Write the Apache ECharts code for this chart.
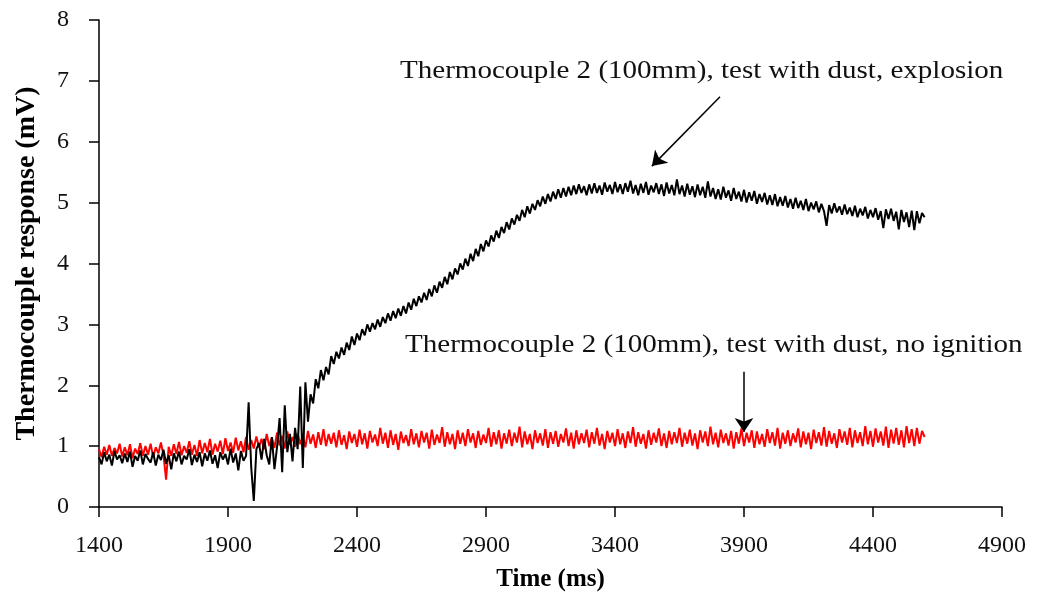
<!DOCTYPE html>
<html style="height:100%">
<head>
    <meta charset="utf-8">
    <script type="text/javascript" src="https://cdn.jsdelivr.net/npm/echarts@6/dist/echarts.min.js"></script>
    <title>Thermocouple response</title>
</head>
<body style="height: 100%; margin: 0; background: #fff">
    <div id="container" style="width:1037px; height:603px"></div>
    <script type="text/javascript">
    // sample times: every 10 ms from 1400 ms (one row = 100 ms)
    const startTime = 1400;
    const stepTime = 10;

    // thermocouple 2, explosion (black)
    const explosion = [
        0.82, 0.70, 0.90, 0.75, 0.86, 0.68, 0.92, 0.78, 0.85, 0.72,
        0.88, 0.74, 0.91, 0.66, 0.84, 0.76, 0.93, 0.70, 0.87, 0.79,
        0.73, 0.90, 0.68, 0.86, 0.77, 0.94, 0.71, 0.85, 0.62, 0.88,
        0.75, 0.91, 0.70, 0.84, 0.78, 0.95, 0.69, 0.86, 0.74, 0.90,
        0.67, 0.88, 0.76, 0.93, 0.71, 0.85, 0.64, 0.90, 0.78, 0.87,
        0.70, 0.96, 0.73, 0.88, 0.60, 0.92, 0.76, 0.84, 1.72, 0.65,
        0.10, 0.95, 1.05, 0.78, 1.12, 0.85, 0.70, 1.15, 0.62, 0.98,
        1.46, 0.57, 1.67, 0.90, 1.20, 0.75, 1.30, 0.95, 1.98, 0.64,
        2.05, 1.40, 1.85, 1.70, 2.10, 1.95, 2.25, 2.08, 2.30, 2.18,
        2.48, 2.35, 2.55, 2.44, 2.62, 2.50, 2.70, 2.58, 2.80, 2.66,
        2.85, 2.74, 2.92, 2.82, 3.00, 2.88, 3.02, 2.92, 3.08, 2.96,
        3.12, 3.02, 3.18, 3.06, 3.22, 3.10, 3.26, 3.14, 3.30, 3.18,
        3.36, 3.24, 3.42, 3.30, 3.46, 3.36, 3.52, 3.40, 3.58, 3.46,
        3.64, 3.52, 3.70, 3.60, 3.78, 3.66, 3.86, 3.74, 3.92, 3.82,
        4.00, 3.90, 4.08, 3.96, 4.16, 4.04, 4.24, 4.12, 4.32, 4.20,
        4.38, 4.28, 4.46, 4.36, 4.54, 4.42, 4.60, 4.50, 4.68, 4.56,
        4.74, 4.64, 4.80, 4.70, 4.88, 4.76, 4.94, 4.82, 4.98, 4.88,
        5.04, 4.94, 5.10, 4.98, 5.14, 5.02, 5.18, 5.06, 5.22, 5.08,
        5.24, 5.10, 5.26, 5.12, 5.28, 5.14, 5.30, 5.16, 5.27, 5.12,
        5.30, 5.15, 5.32, 5.16, 5.28, 5.13, 5.33, 5.18, 5.29, 5.14,
        5.34, 5.17, 5.30, 5.14, 5.32, 5.18, 5.36, 5.15, 5.29, 5.12,
        5.31, 5.16, 5.34, 5.13, 5.28, 5.17, 5.32, 5.14, 5.30, 5.11,
        5.33, 5.15, 5.29, 5.12, 5.38, 5.14, 5.28, 5.10, 5.31, 5.13,
        5.27, 5.09, 5.30, 5.12, 5.26, 5.08, 5.35, 5.10, 5.24, 5.06,
        5.22, 5.05, 5.26, 5.08, 5.20, 5.03, 5.24, 5.06, 5.18, 5.02,
        5.21, 5.00, 5.17, 5.03, 5.19, 4.98, 5.14, 5.01, 5.16, 4.97,
        5.12, 4.96, 5.14, 4.94, 5.09, 4.95, 5.11, 4.92, 5.06, 4.90,
        5.08, 4.91, 5.03, 4.88, 5.06, 4.86, 5.00, 4.89, 5.02, 4.84,
        4.98, 4.86, 4.62, 4.96, 4.82, 4.99, 4.84, 4.94, 4.80, 4.97,
        4.81, 4.92, 4.78, 4.95, 4.76, 4.90, 4.79, 4.93, 4.74, 4.88,
        4.76, 4.91, 4.72, 4.86, 4.58, 4.89, 4.73, 4.90, 4.70, 4.85,
        4.56, 4.88, 4.68, 4.84, 4.60, 4.87, 4.55, 4.86, 4.66, 4.83,
        4.76
    ];

    // thermocouple 2, no ignition (red)
    const noIgnition = [
        0.95, 0.82, 0.99, 0.86, 1.02, 0.84, 0.97, 0.88, 1.04, 0.83,
        0.98, 0.85, 1.03, 0.80, 0.96, 0.87, 1.05, 0.84, 1.00, 0.86,
        1.04, 0.82, 0.98, 0.88, 1.06, 0.85, 0.45, 0.99, 0.84, 1.03,
        0.87, 1.07, 0.85, 1.00, 0.89, 1.08, 0.86, 1.02, 0.84, 1.10,
        0.88, 1.05, 0.90, 1.12, 0.86, 1.04, 0.91, 1.09, 0.87, 1.13,
        0.92, 1.06, 0.89, 1.14, 0.93, 1.08, 0.90, 1.15, 0.94, 1.10,
        0.96, 1.16, 0.98, 1.12, 0.95, 1.20, 1.00, 1.14, 0.97, 1.22,
        1.01, 1.17, 0.96, 1.24, 1.02, 1.15, 0.99, 1.21, 1.03, 1.18,
        0.98, 1.25, 1.04, 1.19, 0.97, 1.23, 1.02, 1.28, 1.00, 1.20,
        1.04, 1.22, 0.98, 1.26, 1.02, 1.18, 0.95, 1.24, 1.05, 1.20,
        0.99, 1.27, 1.03, 1.21, 0.96, 1.25, 1.06, 1.19, 1.00, 1.30,
        1.04, 1.22, 0.97, 1.26, 1.02, 1.20, 0.94, 1.24, 1.05, 1.18,
        1.00, 1.28, 1.03, 1.21, 0.98, 1.25, 1.06, 1.22, 0.96, 1.27,
        1.02, 1.19, 1.05, 1.31, 0.99, 1.23, 1.03, 1.20, 0.95, 1.26,
        1.04, 1.22, 1.00, 1.28, 1.06, 1.21, 0.97, 1.25, 1.02, 1.19,
        1.05, 1.30, 0.99, 1.23, 1.03, 1.26, 0.96, 1.21, 1.04, 1.27,
        1.00, 1.22, 1.06, 1.32, 0.98, 1.24, 1.03, 1.20, 0.95, 1.26,
        1.05, 1.21, 1.01, 1.28, 0.97, 1.23, 1.04, 1.25, 0.99, 1.20,
        1.06, 1.29, 1.00, 1.22, 0.96, 1.26, 1.03, 1.21, 1.05, 1.27,
        0.98, 1.23, 1.04, 1.30, 1.01, 1.20, 0.95, 1.25, 1.06, 1.22,
        1.00, 1.28, 1.03, 1.21, 0.97, 1.24, 1.05, 1.31, 0.99, 1.23,
        1.04, 1.20, 0.96, 1.26, 1.02, 1.22, 1.06, 1.29, 1.00, 1.21,
        0.97, 1.25, 1.03, 1.23, 1.05, 1.30, 0.99, 1.22, 1.04, 1.27,
        1.01, 1.21, 0.95, 1.26, 1.06, 1.24, 1.00, 1.32, 1.03, 1.22,
        0.98, 1.27, 1.05, 1.21, 1.01, 1.25, 0.96, 1.23, 1.04, 1.29,
        1.00, 1.22, 1.06, 1.26, 0.97, 1.24, 1.03, 1.20, 0.99, 1.28,
        1.05, 1.23, 1.01, 1.30, 0.96, 1.22, 1.04, 1.26, 1.00, 1.21,
        1.06, 1.29, 0.98, 1.24, 1.03, 1.22, 0.95, 1.27, 1.05, 1.23,
        1.01, 1.31, 0.99, 1.25, 1.04, 1.21, 0.97, 1.28, 1.06, 1.24,
        1.02, 1.30, 0.98, 1.26, 1.05, 1.23, 1.00, 1.33, 1.03, 1.25,
        0.99, 1.29, 1.06, 1.24, 1.01, 1.32, 0.97, 1.27, 1.04, 1.30,
        1.02, 1.26, 0.98, 1.33, 1.05, 1.28, 1.00, 1.30, 1.04, 1.25,
        1.15
    ];

    // annotation texts and arrows (data coordinates)
    const labelExplosion = 'Thermocouple 2 (100mm), test with dust, explosion';
    const labelNoIgnition = 'Thermocouple 2 (100mm), test with dust, no ignition';
    const arrowExplosion = [[3807, 6.74], [3543, 5.60]];
    const arrowNoIgnition = [[3900, 2.22], [3900, 1.23]];

    const toPairs = function(values) {
        var res = [];
        for (var i = 0; i < values.length; i++) {
            res.push([startTime + i * stepTime, values[i]]);
        }
        return res;
    };

    const serif = 'Liberation Serif';
    var myChart = echarts.init(document.getElementById('container'));

    var option = {
        animation: false,
        grid: { left: 99, right: 35, top: 20, bottom: 96 },
        xAxis: {
            type: 'value',
            min: 1400, max: 4900, interval: 500,
            name: 'Time (ms)',
            nameLocation: 'middle',
            nameGap: 60,
            nameTextStyle: { fontFamily: serif, fontSize: 25, fontWeight: 'bold', color: '#000' },
            axisLine: { lineStyle: { color: '#000', width: 1.5 } },
            axisTick: { length: 10, lineStyle: { color: '#000', width: 1.5 } },
            axisLabel: {
                fontFamily: serif, fontSize: 24, color: '#111', margin: 27,
                formatter: function(v) { return String(v); }
            },
            splitLine: { show: false }
        },
        yAxis: {
            type: 'value',
            min: 0, max: 8, interval: 1,
            name: 'Thermocouple response (mV)',
            nameLocation: 'middle',
            nameGap: 58,
            nameTextStyle: { fontFamily: serif, fontSize: 28, fontWeight: 'bold', color: '#000' },
            axisLine: { show: true, lineStyle: { color: '#000', width: 1.5 } },
            axisTick: { show: true, length: 10, lineStyle: { color: '#000', width: 1.5 } },
            axisLabel: { fontFamily: serif, fontSize: 24, color: '#111', margin: 30 },
            splitLine: { show: false }
        },
        graphic: [
            {
                type: 'text', x: 400, y: 58, scaleX: 1.117,
                style: { text: labelExplosion, font: '26px "Liberation Serif"', fill: '#111', verticalAlign: 'top' }
            },
            {
                type: 'text', x: 405, y: 332, scaleX: 1.118,
                style: { text: labelNoIgnition, font: '26px "Liberation Serif"', fill: '#111', verticalAlign: 'top' }
            }
        ],
        series: [
            {
                name: 'no ignition',
                type: 'line',
                data: toPairs(noIgnition),
                showSymbol: false,
                lineStyle: { color: '#ff0000', width: 2 },
                itemStyle: { color: '#ff0000' }
            },
            {
                name: 'explosion',
                type: 'line',
                data: toPairs(explosion),
                showSymbol: false,
                lineStyle: { color: '#000', width: 2 },
                itemStyle: { color: '#000' },
                markLine: {
                    silent: true,
                    symbol: ['none', 'arrow'],
                    symbolSize: 14,
                    label: { show: false },
                    lineStyle: { color: '#000', width: 1.5, type: 'solid' },
                    data: [
                        [{ coord: arrowExplosion[0] }, { coord: arrowExplosion[1] }],
                        [{ coord: arrowNoIgnition[0] }, { coord: arrowNoIgnition[1] }]
                    ]
                }
            }
        ]
    };

    myChart.setOption(option);
    </script>
</body>
</html>
